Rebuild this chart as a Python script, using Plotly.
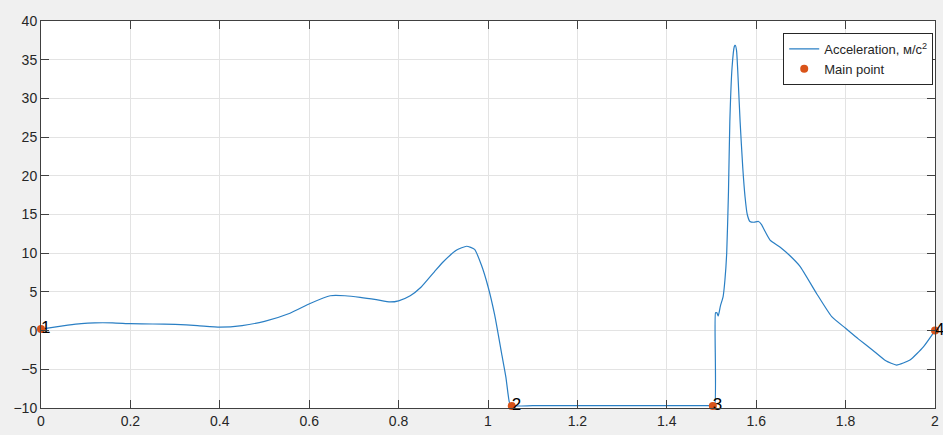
import plotly.graph_objects as go

# Acceleration curve (time, s ; acceleration)
t = [0, 0.03, 0.06, 0.09, 0.12, 0.16, 0.2, 0.25, 0.3, 0.35, 0.4, 0.45, 0.5, 0.557,
     0.602, 0.647, 0.68, 0.714, 0.75, 0.781, 0.8, 0.826, 0.85, 0.88, 0.9, 0.93,
     0.952, 0.97, 0.985, 1.0, 1.015, 1.03, 1.04, 1.048, 1.053, 1.1, 1.2, 1.3, 1.4,
     1.5, 1.507, 1.509, 1.512, 1.515, 1.52, 1.526, 1.53, 1.534, 1.538, 1.541,
     1.546, 1.551, 1.553, 1.556, 1.56, 1.564, 1.57, 1.575, 1.58, 1.586, 1.595,
     1.605, 1.612, 1.62, 1.631, 1.653, 1.675, 1.698, 1.735, 1.769, 1.8, 1.829,
     1.86, 1.89, 1.914, 1.944, 1.974, 2.0]
acc = [0.2, 0.45, 0.7, 0.9, 1.0, 1.0, 0.9, 0.85, 0.8, 0.65, 0.45, 0.65, 1.2, 2.24,
       3.5, 4.5, 4.5, 4.3, 4.0, 3.7, 3.85, 4.5, 5.6, 7.6, 8.9, 10.4,
       10.9, 10.5, 8.5, 5.7, 2.0, -2.8, -6.0, -9.3, -9.7, -9.7, -9.7, -9.7, -9.7,
       -9.7, -9.7, 2.3, 2.3, 1.9, 3.2, 4.4, 6.5, 10.0, 18.0, 27.0,
       34.0, 36.7, 36.9, 36.2, 32.0, 27.0, 21.0, 17.3, 15.0, 14.1, 14.0,
       14.1, 13.7, 12.8, 11.7, 10.8, 9.7, 8.3, 4.8, 1.8, 0.3, -1.1,
       -2.5, -3.9, -4.45, -3.8, -2.1, 0.0]

# Main points
pt_t = [0.0, 1.053, 1.503, 2.0]
pt_acc = [0.2, -9.75, -9.75, 0.0]
pt_labels = ["1", "2", "3", "4"]

x_ticks = [0, 0.2, 0.4, 0.6, 0.8, 1, 1.2, 1.4, 1.6, 1.8, 2]
x_ticklabels = ["0", "0.2", "0.4", "0.6", "0.8", "1", "1.2", "1.4", "1.6", "1.8", "2"]
y_ticks = [-10, -5, 0, 5, 10, 15, 20, 25, 30, 35, 40]

fig = go.Figure()
fig.add_trace(go.Scatter(
    x=t, y=acc, mode="lines", name="Acceleration, м/с<sup>2</sup>",
    line=dict(color="#2a7fc4", width=1.2, shape="spline", smoothing=0.5),
))
fig.add_trace(go.Scatter(
    x=pt_t, y=pt_acc, mode="markers", name="Main point",
    marker=dict(color="#D95319", size=8),
    cliponaxis=False,
))
fig.add_trace(go.Scatter(
    x=pt_t, y=pt_acc, mode="text", text=pt_labels, textposition="middle right",
    textfont=dict(color="black", size=17, family="Liberation Sans, Arial"),
    showlegend=False, cliponaxis=False,
))

axis_common = dict(
    showline=True, linecolor="#404040", linewidth=1, mirror="ticks",
    ticks="inside", ticklen=8, tickcolor="#404040",
    showgrid=True, gridcolor="#e3e3e3", gridwidth=1, zeroline=False,
    tickfont=dict(size=14, color="#262626", family="Liberation Sans, Arial"),
    automargin=False,
)
fig.update_xaxes(range=[0, 2], tickvals=x_ticks, ticktext=x_ticklabels, **axis_common)
fig.update_yaxes(range=[-10, 40], tickvals=y_ticks, **axis_common)

fig.update_layout(
    width=943, height=435,
    margin=dict(l=41, r=8, t=21, b=27, autoexpand=False),
    paper_bgcolor="#f0f0f0", plot_bgcolor="white",
    font=dict(family="Liberation Sans, Arial", color="#262626"),
    legend=dict(
        x=0.998, y=0.969, xanchor="right", yanchor="top",
        bgcolor="white", bordercolor="#262626", borderwidth=1,
        font=dict(size=13, color="#262626"), tracegroupgap=0,
    ),
    showlegend=True,
)

fig.write_html(
    "out.html",
    config={"displayModeBar": False},
    post_script="document.body.style.margin='0';document.body.style.background='#f0f0f0';",
)
